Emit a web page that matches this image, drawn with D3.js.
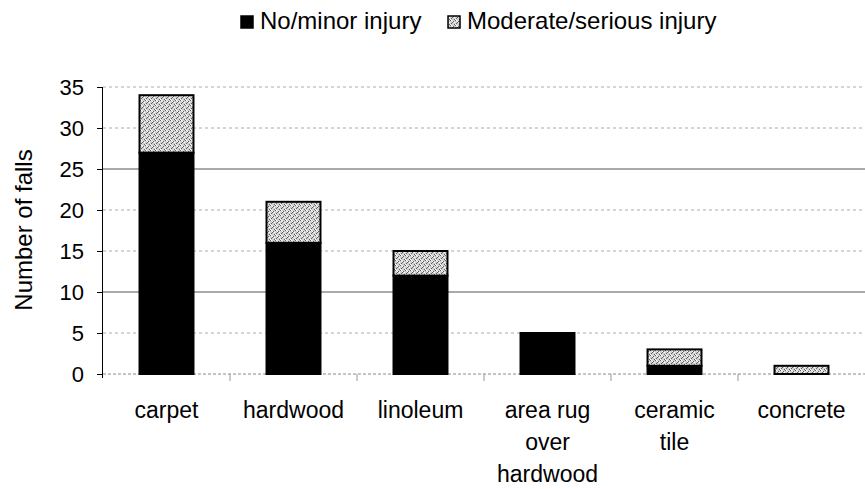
<!DOCTYPE html>
<html>
<head>
<meta charset="utf-8">
<script src="https://cdn.jsdelivr.net/npm/d3@7/dist/d3.min.js"></script>
<style>
  html, body { margin: 0; padding: 0; background: #fff; }
  svg { display: block; font-family: "Liberation Sans", Arial, sans-serif; }
</style>
</head>
<body>
<svg id="chart" width="865" height="489"></svg>
<script>
const categories = ["carpet", "hardwood", "linoleum", "area rug over hardwood", "ceramic tile", "concrete"];
const categoryLines = [["carpet"], ["hardwood"], ["linoleum"], ["area rug", "over", "hardwood"], ["ceramic", "tile"], ["concrete"]];
const noMinor = [27, 16, 12, 5, 1, 0];
const moderateSerious = [7, 5, 3, 0, 2, 1];
const seriesNames = ["No/minor injury", "Moderate/serious injury"];
const yTicks = [0, 5, 10, 15, 20, 25, 30, 35];

const svg = d3.select("#chart");
const margin = { left: 103, right: 865, top: 87, bottom: 374 };

const defs = svg.append("defs");
const pat = defs.append("pattern").attr("id", "speckle")
  .attr("width", 5).attr("height", 5).attr("patternUnits", "userSpaceOnUse");
pat.append("rect").attr("width", 5).attr("height", 5).attr("fill", "#d2d2d2");
[[0,0],[3,1],[1,3],[4,4],[2,2]].forEach(([px,py]) => pat.append("rect").attr("x", px).attr("y", py).attr("width", 1).attr("height", 1).attr("fill", "#606060"));
[[1,0],[4,2],[0,4],[2,1]].forEach(([px,py]) => pat.append("rect").attr("x", px).attr("y", py).attr("width", 1).attr("height", 1).attr("fill", "#ffffff"));

const x = d3.scaleBand().domain(categories).range([margin.left, margin.right]).paddingInner(0.575).paddingOuter(0.2875);
const y = d3.scaleLinear().domain([0, 35]).range([margin.bottom, margin.top]);

// gridlines
svg.append("g").selectAll("line").data(yTicks.filter(d => d > 0)).join("line")
  .attr("x1", margin.left).attr("x2", margin.right)
  .attr("y1", d => y(d)).attr("y2", d => y(d))
  .attr("stroke", d => (d === 10 || d === 25) ? "#555" : "#aaa")
  .attr("stroke-width", 1)
  .attr("stroke-dasharray", d => (d === 10 || d === 25) ? null : "3,3");

// x axis baseline
svg.append("line").attr("x1", margin.left).attr("x2", margin.right)
  .attr("y1", y(0)).attr("y2", y(0)).attr("stroke", "#888").attr("stroke-dasharray", "3,2");
const step = x.step();
svg.append("g").selectAll("line").data(categories.slice(1)).join("line")
  .attr("x1", d => x(d) - x.paddingInner() * step / 2).attr("x2", d => x(d) - x.paddingInner() * step / 2)
  .attr("y1", y(0)).attr("y2", y(0) + 7).attr("stroke", "#999");

// y axis
const yAxis = d3.axisLeft(y).tickValues(yTicks).tickSize(6).tickPadding(13);
const yg = svg.append("g").attr("transform", `translate(${margin.left},0)`).call(yAxis);
yg.select(".domain").attr("stroke", "#000").attr("d", `M-0.5,${y(35)}V${y(0) + 4}`);
yg.selectAll(".tick line").attr("stroke", "#000");
yg.selectAll(".tick text").attr("font-size", 22).attr("fill", "#000")
  .attr("font-family", "'Liberation Sans', Arial, sans-serif");

// stacked bars
const rows = categories.map((c, i) => ({ cat: c, a: noMinor[i], b: moderateSerious[i] }));
const stack = d3.stack().keys(["a", "b"])(rows);
const fills = ["#000", "url(#speckle)"];
stack.forEach((layer, li) => {
  svg.append("g").selectAll("rect").data(layer.filter(d => d[1] - d[0] > 0)).join("rect")
    .attr("x", d => x(d.data.cat))
    .attr("width", x.bandwidth())
    .attr("y", d => y(d[1]))
    .attr("height", d => y(d[0]) - y(d[1]))
    .attr("fill", fills[li])
    .attr("stroke", "#000")
    .attr("stroke-width", 2);
});

// x labels
const xl = svg.append("g");
categories.forEach((c, i) => {
  const t = xl.append("text").attr("x", x(c) + x.bandwidth() / 2).attr("y", 418)
    .attr("text-anchor", "middle").attr("font-size", 23).attr("fill", "#000");
  categoryLines[i].forEach((ln, j) => t.append("tspan").attr("x", x(c) + x.bandwidth() / 2).attr("dy", j === 0 ? 0 : 32).text(ln));
});

// y title
svg.append("text").attr("transform", "translate(32,230) rotate(-90)")
  .attr("text-anchor", "middle").attr("font-size", 24).attr("fill", "#000").text("Number of falls");

// legend
const legendX = [241, 448];
const lg = svg.append("g");
seriesNames.forEach((n, i) => {
  lg.append("rect").attr("x", legendX[i]).attr("y", 16).attr("width", 12).attr("height", 12)
    .attr("fill", fills[i]).attr("stroke", "#000").attr("stroke-width", 1.5);
  lg.append("text").attr("x", legendX[i] + 19).attr("y", 28.5).attr("font-size", 24).attr("fill", "#000").text(n);
});
</script>
</body>
</html>
